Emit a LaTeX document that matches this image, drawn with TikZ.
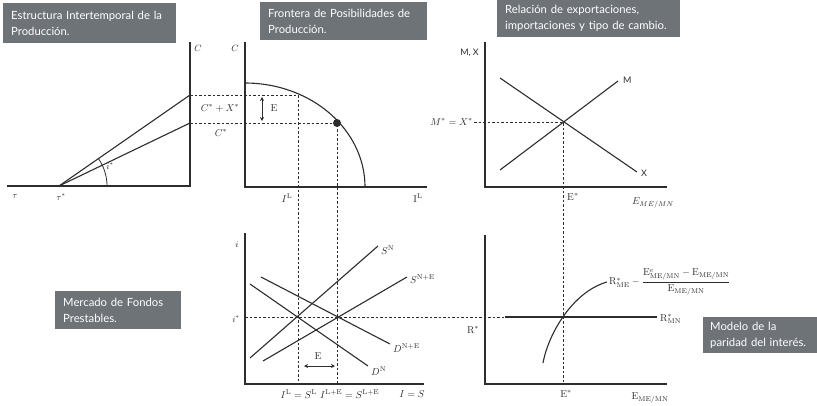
\documentclass[tikz,border=0pt]{standalone}
\usepackage{amsmath,amssymb}
\usepackage{fontspec}
\newfontfamily\boxfont{Lato}
\usepackage{tikz}
\usetikzlibrary{arrows.meta,positioning,calc}
\usepackage{xcolor}
\definecolor{bgray}{RGB}{110,115,120}
\definecolor{ink}{RGB}{45,45,45}

\begin{document}
\begin{tikzpicture}[x=1pt, y=-1pt,
    axis/.style={ink, line width=2.2pt},
    curve/.style={ink, line width=1.1pt},
    guide/.style={ink, line width=0.8pt, dash pattern=on 2.5pt off 2pt},
    twoway/.style={{Stealth[length=4pt,width=4pt]}-{Stealth[length=4pt,width=4pt]}, ink, line width=1pt},
    titlebox/.style={fill=bgray, text=white, font=\boxfont\fontsize{11.3}{16}\selectfont, align=left, anchor=north west, inner xsep=8pt, inner ysep=0pt},
    lab/.style={ink, inner sep=1pt},
    sanslab/.style={ink, font=\boxfont\small, inner sep=1pt}
]
\useasboundingbox (0,0) rectangle (817,405);

% Title boxes
\node[titlebox, text width=157pt, minimum height=40pt] (box1) at (3,3) {Estructura Intertemporal de la\\Producción.};
\node[titlebox, text width=151pt, minimum height=38pt] (box2) at (260,2) {Frontera de Posibilidades de\\Producción.};
\node[titlebox, text width=167pt, minimum height=37pt] (box3) at (497,0) {Relación de exportaciones,\\importaciones y tipo de cambio.};
\node[titlebox, text width=110pt, minimum height=38pt] (box4) at (55,291) {Mercado de Fondos\\Prestables.};
\node[titlebox, text width=100pt, minimum height=36pt, inner xsep=7pt] (box5) at (703,317) {Modelo de la\\paridad del interés.};

% Intertemporal structure (top left)
\coordinate (o1) at (190,186);
\coordinate (t1) at (190,42);
\coordinate (l1) at (7,186);
\coordinate (tau) at (59,186);
\coordinate (cx) at (190,95);
\coordinate (c) at (190,123);

\draw[axis] (l1) -- (o1) -- (t1);
\draw[curve] (tau) -- (cx);
\draw[curve] (tau) -- (c);
\draw[ink, line width=0.8pt] plot[domain=0:35, samples=24] ({59+48*cos(\x)}, {186-48*sin(\x)});

\node[lab, font=\small] (lC1) at (198,48) {$C$};
\node[lab, font=\small] (ltau) at (15,197) {$\tau$};
\node[lab, font=\small] (ltaus) at (61,197) {$\tau^*$};
\node[lab, font=\small] (li1) at (110,166) {$i^*$};
\node[lab] (lcx) at (220,108) {$C^*+X^*$};
\node[lab] (lc) at (221,133) {$C^*$};

% Production possibilities frontier (top middle)
\coordinate (o2) at (245,187);
\coordinate (t2) at (245,42);
\coordinate (r2) at (427,187);
\coordinate (q) at (298,95);
\coordinate (pt) at (337,123);
\coordinate (qd) at (298,384);
\coordinate (ptd) at (337,384);

\draw[axis] (t2) -- (o2) -- (r2);
\draw[curve] plot[domain=0:90, samples=60] ({245+120*cos(\x)}, {187-104*sin(\x)});
\draw[guide] (cx) -- (q) -- (qd);
\draw[guide] (c) -- (pt) -- (ptd);
\fill[ink] (pt) circle[radius=4pt];

\coordinate (ea) at (262,97);
\coordinate (eb) at (262,121);
\draw[twoway] (ea) -- (eb);
\node[lab] (lE1) at (274,108) {$\mathrm{E}$};

\node[lab, font=\small] (lC2) at (235,48) {$C$};
\node[lab] (lIL1) at (287,198) {$I^{\mathrm{L}}$};
\node[lab] (lIL2) at (418,198) {$\mathrm{I}^{\mathrm{L}}$};

% Exports, imports and exchange rate (top right)
\coordinate (o3) at (485,187);
\coordinate (t3) at (485,42);
\coordinate (r3) at (667,187);
\coordinate (m1) at (500,170);
\coordinate (m2) at (618,81);
\coordinate (x1) at (500,78);
\coordinate (x2) at (637,172);
\coordinate (eq) at (563,122);
\coordinate (eqd) at (563,384);

\draw[axis] (t3) -- (o3) -- (r3);
\draw[curve] (m1) -- (m2);
\draw[curve] (x1) -- (x2);

\node[lab, anchor=east] (lMX) at (474,122) {$M^*=X^*$};
\draw[guide] (lMX.east) -- (eq) -- (eqd);

\node[sanslab, anchor=east] (lMXax) at (480,53) {M, X};
\node[sanslab, anchor=west] (lM) at (622,80) {M};
\node[sanslab, anchor=west] (lX) at (640,173) {X};
\node[lab, anchor=west] (lEs1) at (566,197) {$\mathrm{E}^*$};
\node[lab] (lEax1) at (653,203) {$E_{ME/MN}$};

% Loanable funds market (bottom middle)
\coordinate (o4) at (245,384);
\coordinate (t4) at (245,233);
\coordinate (r4) at (424,384);
\coordinate (sn1) at (250,358);
\coordinate (sn2) at (378,246);
\coordinate (se1) at (263,361);
\coordinate (se2) at (407,277);
\coordinate (dn1) at (250,284);
\coordinate (dn2) at (368,366);
\coordinate (de1) at (261,277);
\coordinate (de2) at (390,344);
\coordinate (is) at (245,317);
\coordinate (ie) at (505,317);

\draw[axis] (t4) -- (o4) -- (r4);
\draw[curve] (sn1) -- (sn2);
\draw[curve] (se1) -- (se2);
\draw[curve] (dn1) -- (dn2);
\draw[curve] (de1) -- (de2);
\draw[guide] (is) -- (ie);

\coordinate (fa) at (304,366);
\coordinate (fb) at (335,366);
\draw[twoway] (fa) -- (fb);
\node[lab] (lE2) at (318,356) {$\mathrm{E}$};

\node[lab, font=\small] (li) at (237,245) {$i$};
\node[lab, font=\small] (lis) at (236,319) {$i^*$};
\node[lab, anchor=west] (lSN) at (380,250) {$S^{\mathrm{N}}$};
\node[lab, anchor=west] (lSE) at (409,279) {$S^{\mathrm{N+E}}$};
\node[lab, anchor=west] (lDE) at (392,348) {$D^{\mathrm{N+E}}$};
\node[lab, anchor=west] (lDN) at (370,371) {$D^{\mathrm{N}}$};
\node[lab, anchor=east] (lIS1) at (318,394) {$I^{\mathrm{L}}=S^{\mathrm{L}}$};
\node[lab, anchor=west] (lIS2) at (319,394) {$I^{\mathrm{L+E}}=S^{\mathrm{L+E}}$};
\node[lab] (lIS) at (412,394) {$I=S$};

% Interest parity (bottom right)
\coordinate (o5) at (485,384);
\coordinate (t5) at (485,235);
\coordinate (r5) at (667,384);
\coordinate (k1) at (543,363);
\coordinate (k2) at (607,282);
\coordinate (rm) at (657,317);

\draw[axis] (t5) -- (o5) -- (r5);
\draw[curve] (k1) .. controls (548,335) and (572,292) .. (k2);
\draw[curve] (ie) -- (rm);

\node[lab, anchor=west] (lRME) at (608,282) {$\mathrm{R}^*_{\mathrm{ME}}-\dfrac{\mathrm{E}^e_{\mathrm{ME/MN}}-\mathrm{E}_{\mathrm{ME/MN}}}{\mathrm{E}_{\mathrm{ME/MN}}}$};
\node[lab, anchor=west] (lRMN) at (659,319) {$\mathrm{R}^*_{\mathrm{MN}}$};
\node[lab] (lR) at (473,330) {$\mathrm{R}^*$};
\node[lab] (lEs2) at (566,394) {$\mathrm{E}^*$};
\node[lab] (lEax2) at (650,398) {$\mathrm{E}_{\mathrm{ME/MN}}$};

\end{tikzpicture}
\end{document}
